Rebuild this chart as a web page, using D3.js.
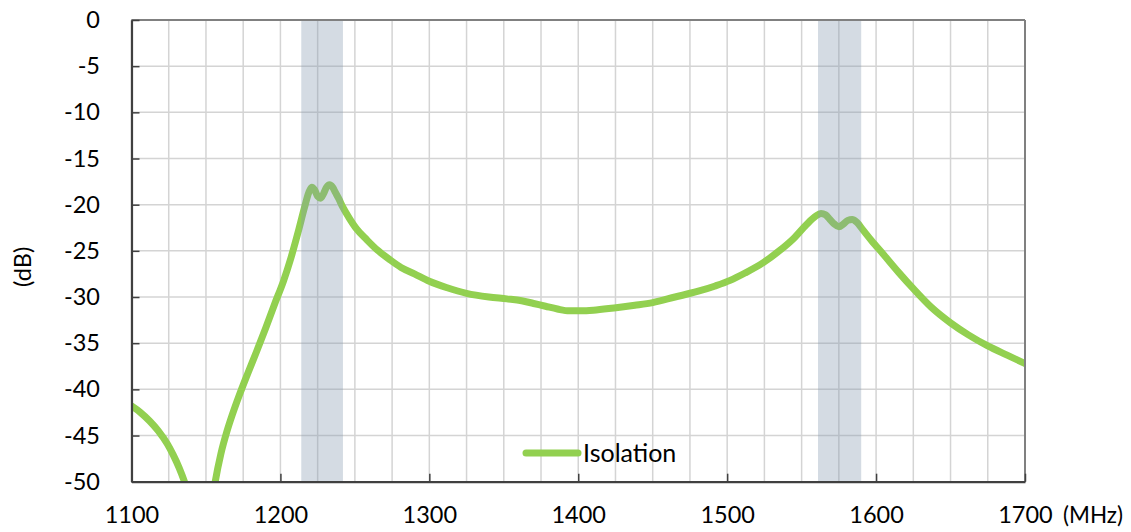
<!DOCTYPE html>
<html>
<head>
<meta charset="utf-8">
<script src="https://cdn.jsdelivr.net/npm/d3@7"></script>
<style>
  html, body { margin: 0; padding: 0; background: #fff; }
  svg { display: block; font-family: Lato, "Open Sans", sans-serif; }
</style>
</head>
<body>
<svg id="chart" width="1131" height="532"></svg>
<script>
// ---- data ----
const freq = [1100,1106,1112,1118,1124,1128,1132,1136,1140,1146,1152,1156,1160,1164,1168,1172,1178,1184,1190,1196,1202,1207,1212,1216,1219,1221,1223,1225,1227,1229,1231,1233,1235,1237,1239,1242,1246,1251,1258,1265,1273,1281,1290,1300,1312,1325,1340,1352,1362,1370,1378,1386,1394,1402,1412,1424,1438,1450,1465,1480,1492,1502,1512,1524,1535,1545,1553,1559,1563,1566,1569,1572,1575,1578,1581,1584,1587,1591,1597,1605,1615,1625,1637,1650,1662,1675,1688,1700];
const isolation = [-41.8,-42.5,-43.4,-44.5,-45.9,-47.1,-48.5,-50.2,-52.3,-58,-54.5,-50.2,-47.0,-44.6,-42.6,-40.8,-38.3,-35.9,-33.4,-30.8,-28.3,-25.8,-22.9,-20.4,-18.7,-18.1,-18.4,-19.1,-19.3,-18.8,-18.1,-17.85,-18.1,-18.7,-19.3,-20.3,-21.4,-22.6,-23.8,-24.9,-25.9,-26.8,-27.5,-28.3,-29.0,-29.6,-30.0,-30.2,-30.4,-30.7,-31.0,-31.3,-31.5,-31.5,-31.4,-31.2,-30.9,-30.6,-30.0,-29.4,-28.8,-28.2,-27.4,-26.3,-25.0,-23.6,-22.2,-21.3,-20.95,-21.1,-21.6,-22.1,-22.4,-22.1,-21.7,-21.6,-21.9,-22.7,-23.9,-25.4,-27.3,-29.1,-31.1,-32.8,-34.1,-35.3,-36.3,-37.2];
const bandStart = [1214, 1561];
const bandEnd = [1242, 1590];
const xTicks = [1100,1200,1300,1400,1500,1600,1700];
const xGrid = d3.range(1100, 1701, 25);
const yTicks = [0,-5,-10,-15,-20,-25,-30,-35,-40,-45,-50];
const seriesName = "Isolation";
const xUnit = "(MHz)";
const yUnit = "(dB)";

// ---- layout ----
const L = 131.5, R = 1025, T = 20, B = 481.7;
const FS = 23.5;
const svg = d3.select("#chart");
const x = d3.scaleLinear().domain([1100, 1700]).range([L, R]);
const y = d3.scaleLinear().domain([0, -50]).range([T, B]);

// grid
const grid = svg.append("g");
grid.selectAll("line.v").data(xGrid).join("line")
  .attr("x1", d => x(d)).attr("x2", d => x(d))
  .attr("y1", T).attr("y2", B)
  .attr("stroke", "#d4d4d4").attr("stroke-width", 1.5);
grid.selectAll("line.h").data(yTicks).join("line")
  .attr("x1", L).attr("x2", R)
  .attr("y1", d => y(d)).attr("y2", d => y(d))
  .attr("stroke", "#d4d4d4").attr("stroke-width", 1.5);

// clip
svg.append("defs").append("clipPath").attr("id", "plotclip")
  .append("rect").attr("x", L).attr("y", T).attr("width", R - L).attr("height", B - T);

// line
const pts = freq.map((f, i) => [f, isolation[i]]);
svg.append("path")
  .datum(pts)
  .attr("clip-path", "url(#plotclip)")
  .attr("fill", "none")
  .attr("stroke", "#92d050")
  .attr("stroke-width", 7)
  .attr("stroke-linejoin", "round")
  .attr("stroke-linecap", "round")
  .attr("d", d3.line().x(d => x(d[0])).y(d => y(d[1])).curve(d3.curveMonotoneX));

// bands
svg.append("g").selectAll("rect").data(bandStart).join("rect")
  .attr("x", d => x(d))
  .attr("width", (d, i) => x(bandEnd[i]) - x(d))
  .attr("y", T).attr("height", B - T)
  .attr("fill", "rgb(132,151,176)").attr("fill-opacity", 0.35);

// borders top/right
svg.append("line").attr("x1", L).attr("x2", R).attr("y1", T).attr("y2", T)
  .attr("stroke", "#808080").attr("stroke-width", 2);
svg.append("line").attr("x1", R).attr("x2", R).attr("y1", T).attr("y2", B)
  .attr("stroke", "#808080").attr("stroke-width", 2);

// axes
const axisColor = "#404040";
const yAxis = svg.append("g").attr("transform", `translate(${L},0)`)
  .call(d3.axisLeft(y).tickValues(yTicks).tickSizeInner(-8).tickSizeOuter(0).tickPadding(31.5)
    .tickFormat(d3.format("d")));
const xAxis = svg.append("g").attr("transform", `translate(0,${B})`)
  .call(d3.axisBottom(x).tickValues(xTicks).tickSizeInner(-8).tickSizeOuter(0).tickPadding(24.8)
    .tickFormat(d3.format("d")));
[yAxis, xAxis].forEach(a => {
  a.select(".domain").attr("stroke", axisColor).attr("stroke-width", 2.2);
  a.selectAll(".tick line").attr("stroke", axisColor).attr("stroke-width", 1.5);
  a.selectAll(".tick text").attr("fill", "#000").attr("font-size", FS)
    .attr("font-family", "Lato, 'Open Sans', sans-serif");
});
yAxis.selectAll(".tick text").text(d => String(d).replace("−", "-"));

// unit labels
svg.append("text").attr("x", 1063).attr("y", B + 41.5)
  .attr("font-size", 22.5).attr("fill", "#000").text(xUnit);
svg.append("text")
  .attr("transform", `translate(31,${(T + B) / 2 + 16}) rotate(-90)`)
  .attr("text-anchor", "middle")
  .attr("font-size", FS).attr("fill", "#000").text(yUnit);

// legend
const lg = svg.append("g");
lg.append("line").attr("x1", 526).attr("x2", 578).attr("y1", 453).attr("y2", 453)
  .attr("stroke", "#92d050").attr("stroke-width", 7).attr("stroke-linecap", "round");
lg.append("text").attr("x", 583).attr("y", 461.5)
  .attr("font-size", 25).attr("fill", "#000").text(seriesName);
</script>
</body>
</html>
